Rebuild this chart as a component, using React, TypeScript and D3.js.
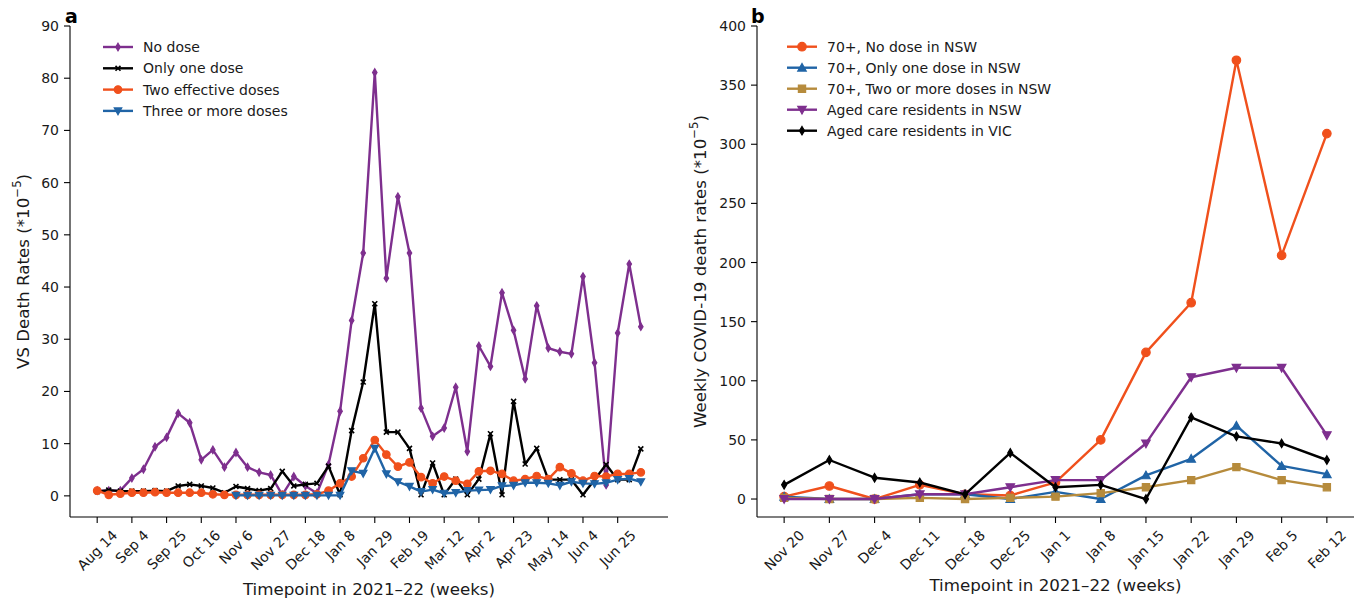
import React, { useEffect, useRef } from "react";
import * as d3 from "d3";

// panel a: weekly values from Aug 14 2021, one point per week (48 weeks)
const tickLabelsA = ["Aug 14", "Sep 4", "Sep 25", "Oct 16", "Nov 6", "Nov 27", "Dec 18", "Jan 8",
	"Jan 29", "Feb 19", "Mar 12", "Apr 2", "Apr 23", "May 14", "Jun 4", "Jun 25"];
const noDose = [1.0, 1.0, 1.0, 3.4, 5.1, 9.4, 11.2, 15.8, 14.0, 6.9, 8.8, 5.5, 8.3, 5.5, 4.5, 4.0,
	0.2, 3.7, 1.9, 0.5, 6.0, 16.2, 33.6, 46.5, 81.1, 41.7, 57.3, 46.5, 16.8, 11.4, 13.0, 20.8,
	8.5, 28.7, 24.8, 38.9, 31.7, 22.4, 36.4, 28.3, 27.6, 27.2, 42.0, 25.5, 2.1, 31.2, 44.4, 32.4];
const oneDose = [0.8, 1.1, 0.9, 0.9, 0.9, 1.0, 0.9, 1.9, 2.2, 1.9, 1.5, 0.6, 1.8, 1.4, 1.0, 1.4,
	4.7, 1.9, 2.2, 2.4, 5.7, 0.2, 12.5, 21.8, 36.8, 12.2, 12.2, 9.1, 0.2, 6.3, 0.2, 3.2,
	0.2, 3.2, 11.9, 0.2, 18.1, 6.1, 9.1, 3.1, 3.1, 3.1, 0.2, 3.1, 6.0, 3.1, 3.1, 9.0];
const twoDoses = [1.0, 0.2, 0.4, 0.6, 0.6, 0.7, 0.6, 0.6, 0.6, 0.6, 0.3, 0.2, 0.2, 0.2, 0.2, 0.2,
	0.2, 0.2, 0.2, 0.3, 1.0, 2.4, 3.7, 7.2, 10.7, 7.9, 5.6, 6.4, 3.6, 2.4, 3.7, 2.9,
	2.3, 4.7, 4.8, 4.2, 2.9, 3.2, 3.8, 3.2, 5.5, 4.3, 2.9, 3.8, 3.7, 4.2, 4.2, 4.5];
const threeDoses = [null, null, null, null, null, null, null, null, null, null, null, null,
	0.1, 0.1, 0.1, 0.1, 0.1, 0.1, 0.1, 0.1, 0.1, 0.1, 4.8, 4.3, 9.1, 4.2, 2.7, 1.8, 0.8, 1.2,
	0.5, 0.6, 1.0, 1.1, 1.2, 1.9, 2.0, 2.5, 2.5, 2.4, 2.0, 2.7, 2.4, 2.3, 2.5, 3.1, 3.3, 2.7];

// panel b
const weeksB = ["Nov 20", "Nov 27", "Dec 4", "Dec 11", "Dec 18", "Dec 25", "Jan 1", "Jan 8",
	"Jan 15", "Jan 22", "Jan 29", "Feb 5", "Feb 12"];
const noDoseNSW = [2, 11, 0, 12, 4, 3, 14, 50, 124, 166, 371, 206, 309];
const oneDoseNSW = [2, 0, 0, 4, 4, 0, 6, 0, 20, 34, 62, 28, 21];
const twoDoseNSW = [1, 0, 0, 1, 0, 1, 2, 5, 10, 16, 27, 16, 10];
const agedNSW = [0, 0, 0, 4, 4, 10, 16, 16, 47, 103, 111, 111, 54];
const agedVIC = [12, 33, 18, 14, 4, 39, 10, 12, 0, 69, 53, 47, 33];

const PURPLE = "#7e2f8e";
const ORANGE = "#f0501c";
const BLUE = "#2064a6";
const GOLD = "#b68b3c";
const BLACK = "#000000";
const TXT = "#1a1a1a";
const LW = 2.4;

function markerPath(type: string, s: number): string {
	const h = s / 2;
	if (type === "d") return `M0,${-h}L${s * 0.3},0L0,${h}L${-s * 0.3},0Z`;
	if (type === "v") return `M${-h},${-h * 0.8}L${h},${-h * 0.8}L0,${h}Z`;
	if (type === "^") return `M${-h},${h * 0.8}L${h},${h * 0.8}L0,${-h}Z`;
	if (type === "s") { const q = h * 0.85; return `M${-q},${-q}H${q}V${q}H${-q}Z`; }
	if (type === "x") { const q = s * 0.33; return `M${-q},${-q}L${q},${q}M${-q},${q}L${q},${-q}`; }
	const p = d3.path();
	p.arc(0, 0, h, 0, 2 * Math.PI);
	return p.toString();
}

function drawMarker(g: any, type: string, cx: number, cy: number, s: number, color: string) {
	g.append("path")
		.attr("d", markerPath(type, s))
		.attr("transform", `translate(${cx},${cy})`)
		.attr("fill", type === "x" ? "none" : color)
		.attr("stroke", color)
		.attr("stroke-width", type === "x" ? 1.6 : 1.2)
		.attr("stroke-linejoin", "miter");
}

function drawPanel(svg: any, p: any) {
	const x = d3.scaleLinear().domain(p.xDomain).range([p.left, p.right]);
	const y = d3.scaleLinear().domain(p.yDomain).range([p.bottom, p.top]);
	const g = svg.append("g");

	p.series.forEach((s: any) => {
		const pts = s.values.map((v: any, i: number) => [i, v]).filter((d: any) => d[1] != null);
		const line = d3.line<any>().x(d => x(d[0])).y(d => y(d[1]));
		g.append("path")
			.attr("d", line(pts))
			.attr("fill", "none")
			.attr("stroke", s.color)
			.attr("stroke-width", LW)
			.attr("stroke-linejoin", "round");
		pts.forEach((d: any) => drawMarker(g, s.marker, x(d[0]), y(d[1]), p.ms, s.color));
	});

	// spines
	g.append("line").attr("x1", p.left).attr("x2", p.left).attr("y1", p.top).attr("y2", p.bottom)
		.attr("stroke", "#000").attr("stroke-width", 1.1);
	g.append("line").attr("x1", p.left).attr("x2", p.right).attr("y1", p.bottom).attr("y2", p.bottom)
		.attr("stroke", "#000").attr("stroke-width", 1.1);

	p.yTicks.forEach((t: number) => {
		g.append("line").attr("x1", p.left - 6).attr("x2", p.left).attr("y1", y(t)).attr("y2", y(t))
			.attr("stroke", "#000").attr("stroke-width", 1.1);
		g.append("text").attr("x", p.left - 11).attr("y", y(t)).attr("text-anchor", "end")
			.attr("dominant-baseline", "central").attr("font-size", 14).attr("fill", TXT).text(t);
	});

	p.xTickLabels.forEach((lab: string, k: number) => {
		const tx = x(k * p.xTickStep);
		g.append("line").attr("x1", tx).attr("x2", tx).attr("y1", p.bottom).attr("y2", p.bottom + 6)
			.attr("stroke", "#000").attr("stroke-width", 1.1);
		const t = g.append("text").attr("font-size", 14).attr("fill", TXT)
			.attr("text-anchor", "middle").attr("dominant-baseline", "central").text(lab);
		const w = (t.node() as SVGTextElement).getComputedTextLength();
		const c = (w + 13) / (2 * Math.SQRT2);
		const cy = p.bottom + 11 + c;
		t.attr("x", tx).attr("y", cy).attr("transform", `rotate(-45,${tx},${cy})`);
	});

	g.append("text").attr("x", (p.left + p.right) / 2).attr("y", p.xLabelY).attr("text-anchor", "middle")
		.attr("font-size", 16.7).attr("fill", TXT).text("Timepoint in 2021–22 (weeks)");

	const my = (p.top + p.bottom) / 2;
	const yl = g.append("text").attr("transform", `translate(${p.yLabelX},${my}) rotate(-90)`)
		.attr("text-anchor", "middle").attr("dominant-baseline", "central")
		.attr("font-size", 16.7).attr("fill", TXT);
	yl.append("tspan").text(p.yLabel + " (*10");
	yl.append("tspan").attr("dy", -6).attr("font-size", 11.7).text("−5");
	yl.append("tspan").attr("dy", 6).text(")");

	g.append("text").attr("x", p.letterX).attr("y", 22.5).attr("font-size", 19).attr("font-weight", "bold")
		.attr("fill", "#000").text(p.letter);

	p.series.forEach((s: any, i: number) => {
		const ly = p.legY + i * p.legDy;
		g.append("line").attr("x1", p.legX).attr("x2", p.legX + 30).attr("y1", ly).attr("y2", ly)
			.attr("stroke", s.color).attr("stroke-width", LW);
		drawMarker(g, s.marker, p.legX + 15, ly, p.ms, s.color);
		g.append("text").attr("x", p.legX + 40).attr("y", ly).attr("dominant-baseline", "central")
			.attr("font-size", 14).attr("fill", TXT).text(s.label);
	});
}

export default function App() {
	const ref = useRef<SVGSVGElement>(null);
	useEffect(() => {
		const svg = d3.select(ref.current);
		svg.selectAll("*").remove();
		drawPanel(svg, {
			left: 70, right: 668, top: 26, bottom: 517,
			xDomain: [-2.35, 49.35], yDomain: [-4.05, 90],
			yTicks: d3.range(0, 91, 10),
			xTickLabels: tickLabelsA, xTickStep: 3,
			xLabelY: 595, yLabelX: 23, yLabel: "VS Death Rates",
			letter: "a", letterX: 65,
			legX: 103, legY: 47, legDy: 21.3, ms: 7.5,
			series: [
				{ values: noDose, color: PURPLE, marker: "d", label: "No dose" },
				{ values: oneDose, color: BLACK, marker: "x", label: "Only one dose" },
				{ values: twoDoses, color: ORANGE, marker: "o", label: "Two effective doses" },
				{ values: threeDoses, color: BLUE, marker: "v", label: "Three or more doses" },
			],
		});
		drawPanel(svg, {
			left: 757, right: 1354, top: 26, bottom: 517,
			xDomain: [-0.6, 12.6], yDomain: [-15.2, 400],
			yTicks: d3.range(0, 401, 50),
			xTickLabels: weeksB, xTickStep: 1,
			xLabelY: 591, yLabelX: 700, yLabel: "Weekly COVID-19 death rates",
			letter: "b", letterX: 751,
			legX: 787, legY: 46.7, legDy: 21, ms: 8.5,
			series: [
				{ values: noDoseNSW, color: ORANGE, marker: "o", label: "70+, No dose in NSW" },
				{ values: oneDoseNSW, color: BLUE, marker: "^", label: "70+, Only one dose in NSW" },
				{ values: twoDoseNSW, color: GOLD, marker: "s", label: "70+, Two or more doses in NSW" },
				{ values: agedNSW, color: PURPLE, marker: "v", label: "Aged care residents in NSW" },
				{ values: agedVIC, color: BLACK, marker: "d", label: "Aged care residents in VIC" },
			],
		});
	}, []);
	return (
		<svg
			ref={ref}
			width={1362}
			height={601}
			fontFamily="DejaVu Sans"
			style={{ position: "absolute", left: 0, top: 0, background: "#fff" }}/>
	);
}
